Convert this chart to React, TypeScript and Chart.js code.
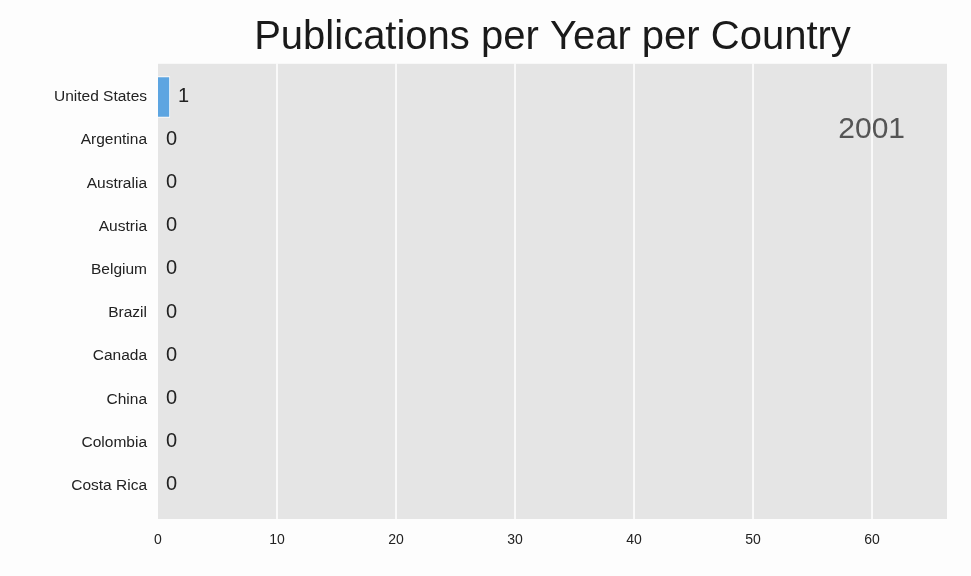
import React, { useEffect, useRef } from "react";
import { Chart, registerables } from "chart.js";
Chart.register(...registerables);

const countries = ["United States", "Argentina", "Australia", "Austria", "Belgium", "Brazil", "Canada", "China", "Colombia", "Costa Rica"];
const values = [1, 0, 0, 0, 0, 0, 0, 0, 0, 0];
const xTicks = [0, 10, 20, 30, 40, 50, 60];
const year = "2001";
const title = "Publications per Year per Country";

export default function App() {
  const ref = useRef<HTMLCanvasElement>(null);
  useEffect(() => {
    document.body.style.margin = "0";
    document.body.style.background = "#fdfdfd";
    const EXT = 11.6;
    const bgPlugin = {
      id: "bg",
      beforeDatasetsDraw(c: any) {
        const { ctx, chartArea: a } = c;
        const xs = c.scales.x;
        ctx.save();
        ctx.fillStyle = "#e5e5e5";
        ctx.fillRect(a.left, a.top - EXT, a.right - a.left, a.bottom - a.top + 2 * EXT);
        ctx.strokeStyle = "#ffffff";
        ctx.lineWidth = 1.5;
        xTicks.forEach((t) => {
          if (t === 0) return;
          const x = xs.getPixelForValue(t);
          ctx.beginPath();
          ctx.moveTo(x, a.top - EXT);
          ctx.lineTo(x, a.bottom + EXT);
          ctx.stroke();
        });
        ctx.restore();
      },
      afterDraw(c: any) {
        const { ctx, chartArea: a } = c;
        const xs = c.scales.x, ys = c.scales.y;
        ctx.save();
        ctx.font = "20px 'Liberation Sans', Arial, sans-serif";
        ctx.fillStyle = "#222";
        ctx.textBaseline = "middle";
        values.forEach((v, i) => {
          ctx.fillText(String(v), xs.getPixelForValue(v) + 8, ys.getPixelForValue(i) - 1);
        });
        ctx.font = "30px 'Liberation Sans', Arial, sans-serif";
        ctx.fillStyle = "#555";
        ctx.textAlign = "right";
        ctx.fillText(year, a.right - 42, 130);
        ctx.font = "40px 'Liberation Sans', Arial, sans-serif";
        ctx.fillStyle = "#1a1a1a";
        ctx.textAlign = "center";
        ctx.fillText(title, (a.left + a.right) / 2, 38);
        ctx.restore();
      },
    };
    const chart = new Chart(ref.current!, {
      type: "bar",
      data: {
        labels: countries,
        datasets: [{
          data: values,
          backgroundColor: "#5DA5E1",
          borderColor: "#ffffff",
          borderWidth: 1,
          barThickness: 41,
        }],
      },
      options: {
        indexAxis: "y",
        animation: false,
        responsive: false,
        layout: { padding: { top: 75.4, right: 24, bottom: 28, left: 0 } },
        plugins: { legend: { display: false }, tooltip: { enabled: false } },
        scales: {
          x: {
            type: "linear", min: 0, max: 66.3,
            afterBuildTicks: (s: any) => { s.ticks = xTicks.map((v) => ({ value: v })); },
            grid: { display: false },
            border: { display: false },
            ticks: { color: "#222", font: { size: 14, family: "'Liberation Sans', Arial" }, padding: 16 },
            afterFit: (s: any) => { s.height = 40.6; },
          },
          y: {
            type: "category",
            afterFit: (s: any) => { s.width = 158; },
            grid: { display: false },
            border: { display: false },
            ticks: { color: "#222", font: { size: 15.5, family: "'Liberation Sans', Arial" }, padding: 3 },
          },
        },
      },
      plugins: [bgPlugin],
    } as any);
    return () => chart.destroy();
  }, []);
  return <canvas ref={ref} width={971} height={576} style={{ display: "block" }} />;
}
